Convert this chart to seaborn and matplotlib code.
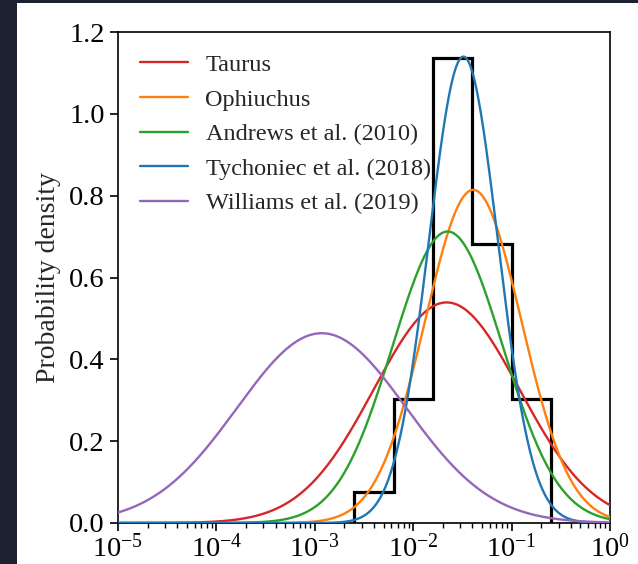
"""Lognormal fits of disc values against the measured histogram."""
import matplotlib.pyplot as plt
from matplotlib.patches import Rectangle
from matplotlib.ticker import LogLocator, NullFormatter
import seaborn as sns
import pandas as pd
import numpy as np

# histogram of measured values (bins in log10 space, 0.4 dex wide)
bin_edges_log = [-2.6, -2.2, -1.8, -1.4, -1.0, -0.6]
bin_counts = [1, 4, 15, 9, 4]

# lognormal model curves: mean and width in log10 units
labels = ["Taurus", "Ophiuchus", "Andrews et al. (2010)",
          "Tychoniec et al. (2018)", "Williams et al. (2019)"]
mu_log = [-1.66, -1.39, -1.65, -1.49, -2.93]
sigma_log = [0.74, 0.49, 0.56, 0.35, 0.86]
colors = ["#d62728", "#ff7f0e", "#2ca02c", "#1f77b4", "#9467bd"]

xticks = [1e-5, 1e-4, 1e-3, 1e-2, 1e-1, 1e0]
xticklabels = [r"$10^{-5}$", r"$10^{-4}$", r"$10^{-3}$", r"$10^{-2}$", r"$10^{-1}$", r"$10^{0}$"]

sns.set_theme(style="ticks")
plt.rcParams["font.family"] = ["Liberation Serif", "DejaVu Serif"]
plt.rcParams["mathtext.fontset"] = "custom"
plt.rcParams["mathtext.rm"] = "Liberation Serif"
plt.rcParams["mathtext.it"] = "Liberation Serif:italic"

fig = plt.figure(figsize=(6.38, 5.64), dpi=100, facecolor="#1c2130")
fig.patches.append(Rectangle((17 / 638, 0), 1, 1 - 3 / 564, transform=fig.transFigure,
                             facecolor="white", edgecolor="none", zorder=-10))
ax = fig.add_axes([118 / 638, 1 - 523 / 564, 492 / 638, 491 / 564])

edges = 10.0 ** np.array(bin_edges_log)
heights = np.array(bin_counts) / (sum(bin_counts) * 0.4)
ax.stairs(heights, edges, color="black", linewidth=2.3, zorder=2)

logx = np.linspace(-5, 0, 600)
rows = []
for lab, m, s in zip(labels, mu_log, sigma_log):
    dens = np.exp(-0.5 * ((logx - m) / s) ** 2) / (s * np.sqrt(2 * np.pi))
    rows.append(pd.DataFrame({"x": 10.0 ** logx, "density": dens, "label": lab}))
df = pd.concat(rows, ignore_index=True)

for lab, col in zip(labels, colors):
    sns.lineplot(data=df[df["label"] == lab], x="x", y="density", color=col,
                 linewidth=1.7, label=lab, ax=ax, zorder=3)

ax.set_xscale("log")
ax.set_xlim(1e-5, 1)
ax.set_ylim(0, 1.2)
ax.set_xticks(xticks)
ax.set_xticklabels(xticklabels)
ax.xaxis.set_minor_locator(LogLocator(base=10, subs=np.arange(2, 10), numticks=20))
ax.xaxis.set_minor_formatter(NullFormatter())
ax.set_yticks([0.0, 0.2, 0.4, 0.6, 0.8, 1.0, 1.2])
ax.set_xlabel("")
ax.set_ylabel("Probability density", fontsize=20, labelpad=6)
ax.tick_params(axis="both", which="major", labelsize=20.5, length=6, width=1.2,
               color="black", labelcolor="black")
ax.tick_params(axis="x", which="major", pad=2)
ax.tick_params(axis="x", which="minor", length=3.5, width=1.0, color="black")
for sp in ax.spines.values():
    sp.set_linewidth(1.2)
    sp.set_color("black")
ax.legend(loc="upper left", frameon=False, fontsize=17.5, labelspacing=0.52,
          handlelength=2.0, handletextpad=0.7, borderaxespad=0.5)

fig.savefig("out.png", dpi=100, facecolor=fig.get_facecolor())
